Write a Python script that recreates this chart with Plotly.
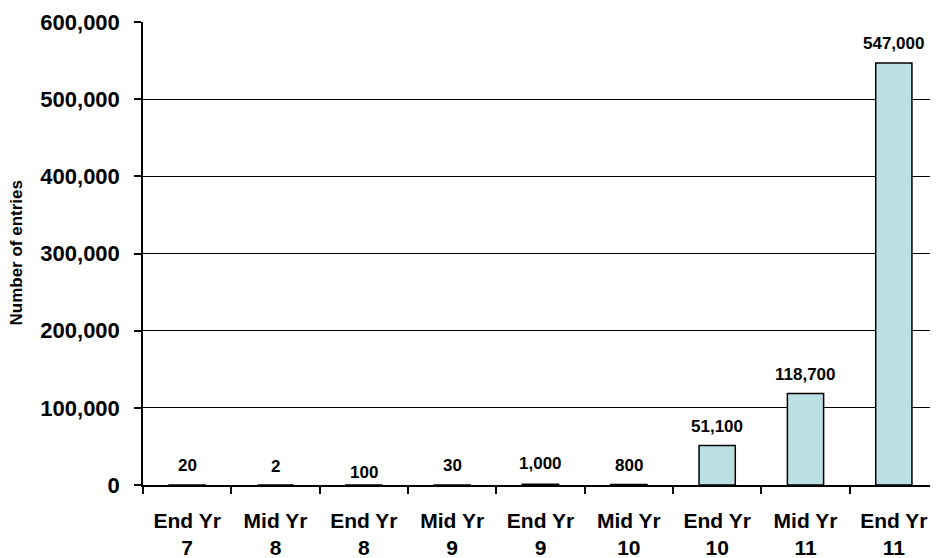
import plotly.graph_objects as go

categories = ["End Yr<br>7", "Mid Yr<br>8", "End Yr<br>8", "Mid Yr<br>9", "End Yr<br>9",
              "Mid Yr<br>10", "End Yr<br>10", "Mid Yr<br>11", "End Yr<br>11"]
values = [20, 2, 100, 30, 1000, 800, 51100, 118700, 547000]
label_shift = [19, 19, 12, 19, 21, 19, 19, 19, 19]
y_ticks = [0, 100000, 200000, 300000, 400000, 500000, 600000]
y_tick_text = ["0", "100,000", "200,000", "300,000", "400,000", "500,000", "600,000"]

FONT = "Liberation Sans, Arial, sans-serif"

fig = go.Figure()
fig.add_trace(go.Bar(
    x=categories, y=values,
    marker=dict(color="#BBE0E3", line=dict(color="#000000", width=1.5)),
    hoverinfo="skip",
))

for c, v, s in zip(categories, values, label_shift):
    fig.add_annotation(x=c, y=v, text=f"{v:,}", showarrow=False, yshift=s,
                       yanchor="middle",
                       font=dict(family=FONT, size=17, color="#000", weight="bold"))

fig.add_annotation(xref="paper", yref="paper", x=-127 / 795, y=0.5,
                   text="Number of entries", textangle=-90, showarrow=False,
                   xanchor="center", yanchor="middle",
                   font=dict(family=FONT, size=17, color="#000", weight="bold"))

fig.update_layout(
    width=930, height=550,
    margin=dict(l=135, r=0, t=14, b=73),
    plot_bgcolor="white", paper_bgcolor="white",
    bargap=0.59, showlegend=False,
    font=dict(family=FONT, color="#000"),
)
fig.update_xaxes(
    type="category", showline=True, linecolor="#000", linewidth=1.5, automargin=False,
    ticks="outside", tickson="boundaries", ticklen=7, tickcolor="#000", tickwidth=1.5,
    ticklabelstandoff=16,
    tickfont=dict(family=FONT, size=21, color="#000", weight="bold"),
    showgrid=False,
)
fig.update_yaxes(
    range=[0, 600000], tickvals=y_ticks, ticktext=y_tick_text, automargin=False,
    showline=True, linecolor="#000", linewidth=1.5,
    ticks="outside", ticklen=7, tickcolor="#000", tickwidth=1.5,
    ticklabelstandoff=10,
    showgrid=True, gridcolor="#000", gridwidth=1.2, zeroline=False,
    tickfont=dict(family=FONT, size=22, color="#000", weight="bold"),
)

fig.write_html("out.html")
